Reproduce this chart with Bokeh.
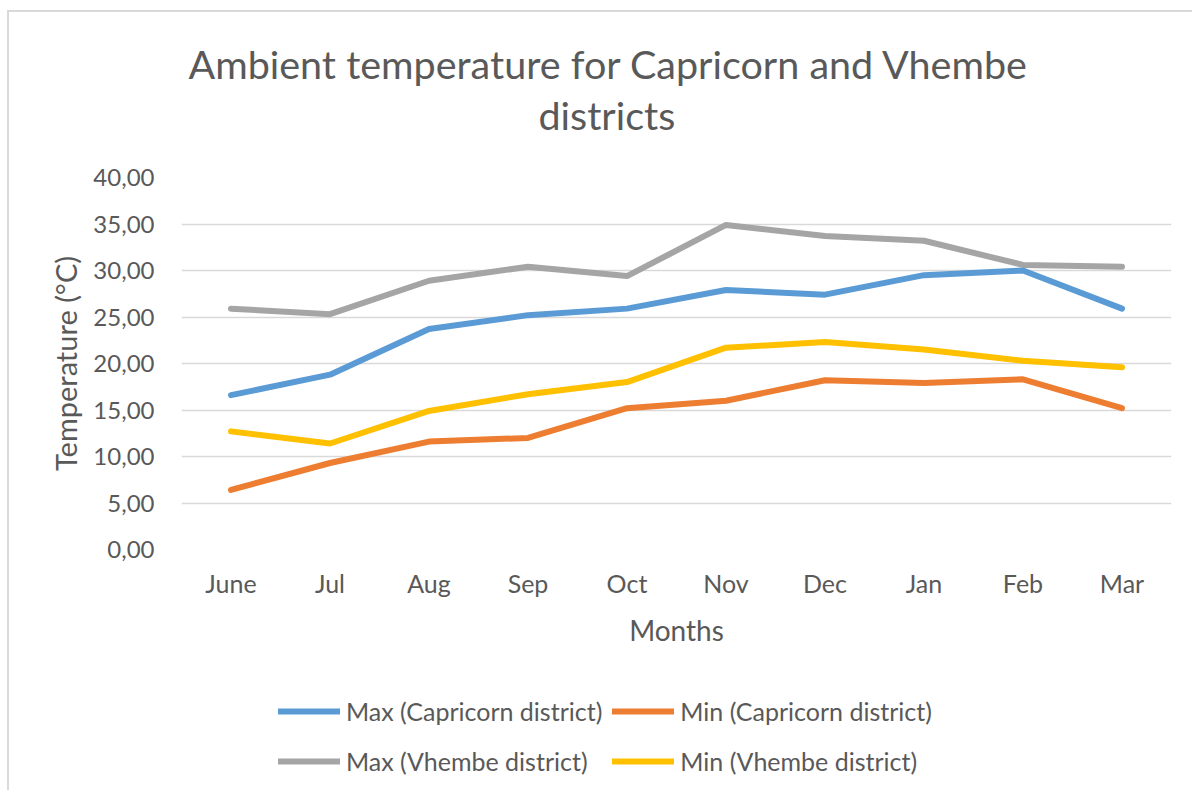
from bokeh.plotting import figure
from bokeh.layouts import column
from bokeh.models import (Range1d, FactorRange, FixedTicker, Legend, LegendItem, Title)
from bokeh.embed import file_html
from bokeh.resources import INLINE

# ---- data ----
months = ["June", "Jul", "Aug", "Sep", "Oct", "Nov", "Dec", "Jan", "Feb", "Mar"]
max_capricorn = [16.6, 18.8, 23.7, 25.2, 25.9, 27.9, 27.4, 29.5, 30.0, 25.9]
min_capricorn = [6.4, 9.3, 11.6, 12.0, 15.2, 16.0, 18.2, 17.9, 18.3, 15.2]
max_vhembe = [25.9, 25.3, 28.9, 30.4, 29.4, 34.9, 33.7, 33.2, 30.6, 30.4]
min_vhembe = [12.7, 11.4, 14.9, 16.7, 18.0, 21.7, 22.3, 21.5, 20.3, 19.6]
y_ticks = [0, 5, 10, 15, 20, 25, 30, 35, 40]
y_tick_labels = ["0,00", "5,00", "10,00", "15,00", "20,00", "25,00", "30,00", "35,00", "40,00"]
title_lines = ["Ambient temperature for Capricorn and Vhembe", "districts"]
series_names = ["Max (Capricorn district)", "Min (Capricorn district)",
                "Max (Vhembe district)", "Min (Vhembe district)"]
colors = ["#5B9BD5", "#ED7D31", "#A5A5A5", "#FFC000"]

FONT = "Lato"
TXT = "#595959"
W, HP, HL = 1185, 655, 125
FL, FT, FB, FR = 172, 165, 537, 1162  # frame edges in main-figure px

p = figure(width=W, height=HP, output_backend="svg", toolbar_location=None,
           x_range=FactorRange(*months, range_padding=0),
           y_range=Range1d(0, 40),
           min_border_left=FL, min_border_top=FT,
           min_border_bottom=HP - FB, min_border_right=W - FR,
           styles={"margin-left": "7px", "margin-top": "10px",
                   "border-left": "2px solid #d9d9d9", "border-top": "2px solid #d9d9d9"})
p.outline_line_color = None
p.background_fill_color = "white"
p.border_fill_color = "white"

# axes
p.yaxis.ticker = FixedTicker(ticks=y_ticks)
p.yaxis.major_label_overrides = {t: s for t, s in zip(y_ticks, y_tick_labels)}
for ax in (p.xaxis, p.yaxis):
    ax.axis_line_color = None
    ax.major_tick_line_color = None
    ax.minor_tick_line_color = None
    ax.major_label_text_font = FONT
    ax.major_label_text_font_size = "24px"
    ax.major_label_text_color = TXT
    ax.axis_label_text_font = FONT
    ax.axis_label_text_color = TXT
    ax.axis_label_text_font_style = "normal"
p.yaxis.axis_label_text_font_size = "29px"
p.xaxis.axis_label_text_font_size = "28px"
p.xaxis.major_label_text_font_size = "25px"
p.yaxis.major_label_standoff = 21
p.xaxis.major_label_standoff = 12
p.yaxis.axis_label = "Temperature (°C)"
p.xaxis.axis_label = "Months"
p.yaxis.axis_label_standoff = 7
p.xaxis.axis_label_standoff = 12

p.xgrid.grid_line_color = None
p.ygrid.grid_line_color = "#d9d9d9"
p.ygrid.grid_line_width = 1.5

series = [max_capricorn, min_capricorn, max_vhembe, min_vhembe]
for i in [2, 0, 3, 1]:
    p.line(x=months, y=series[i], line_color=colors[i], line_width=6,
           line_cap="round", line_join="round")

# titles: p.title is outermost; first added title sits nearest the frame
p.title.text = title_lines[0]
p.title.align = "left"
p.title.offset = 7
p.title.standoff = 2
p.title.text_font = FONT
p.title.text_font_size = "39.5px"
p.title.text_font_style = "normal"
p.title.text_color = TXT
p.add_layout(Title(text=" ", standoff=25, text_font=FONT, text_font_size="10px"), "above")
p.add_layout(Title(text=title_lines[1], align="left", offset=357, standoff=2,
                   text_font=FONT, text_font_size="39.5px", text_font_style="normal",
                   text_color=TXT), "above")

# legend in its own strip below the chart (its frame aligns with the chart frame)
q = figure(width=W, height=HL, output_backend="svg", toolbar_location=None,
           x_range=FactorRange(*months, range_padding=0), y_range=Range1d(100, 101),
           x_axis_location=None, y_axis_location=None, min_border=0,
           styles={"margin-left": "7px", "border-left": "2px solid #d9d9d9"})
q.outline_line_color = None
q.xgrid.visible = False
q.ygrid.visible = False
leg_r = [q.line(x=months, y=series[i], line_color=colors[i], line_width=6, line_cap="round")
         for i in range(4)]
items = [LegendItem(label=series_names[i], renderers=[leg_r[i]]) for i in range(4)]
legend = Legend(items=items, orientation="horizontal", ncols=2,
                location=(97, 9),
                glyph_width=62, glyph_height=40, label_height=40,
                label_standoff=6, spacing=10, padding=0, margin=0,
                label_text_font=FONT, label_text_font_size="25px",
                label_text_color=TXT, border_line_color=None,
                background_fill_alpha=0)
q.add_layout(legend, "center")

layout = column(p, q, spacing=0)
open("out.html", "w").write(file_html(layout, INLINE))
